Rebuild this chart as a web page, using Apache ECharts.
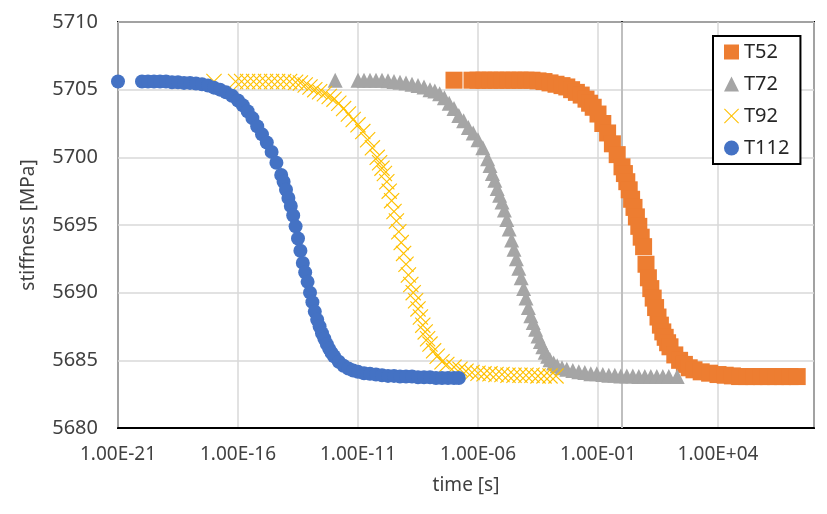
<!DOCTYPE html>
<html>
<head>
    <meta charset="UTF-8">
    <title>stiffness vs time</title>
    <script src="https://cdn.jsdelivr.net/npm/echarts@6/dist/echarts.min.js"></script>
    <style>
        html, body { margin: 0; padding: 0; background: #fff; }
        #main { width: 827px; height: 514px; }
    </style>
</head>
<body>
    <div id="main"></div>
    <script type="text/javascript">
        // log10(time [s]) , stiffness [MPa]
        var t52 = [
            [-7, 5705.7], [-6.25, 5705.7], [-6, 5705.7], [-5.75, 5705.7], [-5.5, 5705.7], [-5.25, 5705.7],
            [-5, 5705.7], [-4.75, 5705.7], [-4.5, 5705.7], [-4.25, 5705.7], [-4, 5705.7], [-3.75, 5705.7],
            [-3.5, 5705.65], [-3.25, 5705.6], [-3, 5705.5], [-2.75, 5705.4], [-2.5, 5705.3], [-2.3, 5705.2],
            [-2.1, 5705.0], [-1.9, 5704.8], [-1.7, 5704.6], [-1.5, 5704.3], [-1.35, 5704.0], [-1.2, 5703.7],
            [-1, 5703.2], [-0.8, 5702.5], [-0.6, 5701.8], [-0.4, 5701.0], [-0.2, 5700.2], [0, 5699.3],
            [0.1, 5698.8], [0.2, 5698.2], [0.3, 5697.6], [0.4, 5696.9], [0.5, 5696.3], [0.6, 5695.6],
            [0.7, 5694.9], [0.8, 5694.1], [0.9, 5693.4], [1, 5692.1], [1.1, 5691.1], [1.2, 5690.3],
            [1.3, 5689.6], [1.4, 5688.9], [1.5, 5688.2], [1.6, 5687.6], [1.7, 5687.1], [1.8, 5686.7],
            [1.9, 5686.3], [2, 5686.0], [2.2, 5685.4], [2.4, 5685.0], [2.6, 5684.7], [2.8, 5684.45],
            [3, 5684.3], [3.3, 5684.15], [3.65, 5684.05], [4, 5683.95], [4.3, 5683.9], [4.6, 5683.85],
            [4.9, 5683.8], [5.2, 5683.8], [5.5, 5683.8], [5.8, 5683.8], [6.1, 5683.8], [6.4, 5683.8],
            [6.7, 5683.8], [7, 5683.8], [7.3, 5683.8]
        ];
        var t72 = [
            [-11.95, 5705.7], [-11, 5705.7], [-10.75, 5705.7], [-10.5, 5705.7], [-10.25, 5705.7], [-10, 5705.7],
            [-9.75, 5705.65], [-9.5, 5705.6], [-9.25, 5705.55], [-9, 5705.5], [-8.75, 5705.4], [-8.5, 5705.3],
            [-8.25, 5705.2], [-8, 5705.0], [-7.8, 5704.9], [-7.6, 5704.7], [-7.4, 5704.4], [-7.2, 5704.0],
            [-7, 5703.6], [-6.8, 5703.1], [-6.6, 5702.7], [-6.4, 5702.2], [-6.2, 5701.8], [-6, 5701.3],
            [-5.8, 5700.7], [-5.6, 5699.9], [-5.5, 5699.4], [-5.4, 5698.8], [-5.3, 5698.3], [-5.2, 5697.7],
            [-5.1, 5697.2], [-5, 5696.7], [-4.9, 5696.1], [-4.8, 5695.4], [-4.7, 5694.7], [-4.6, 5693.9],
            [-4.5, 5693.2], [-4.4, 5692.5], [-4.3, 5691.8], [-4.2, 5691.1], [-4.1, 5690.3], [-4, 5689.6],
            [-3.9, 5688.9], [-3.8, 5688.3], [-3.7, 5687.8], [-3.6, 5687.3], [-3.5, 5686.8], [-3.4, 5686.4],
            [-3.3, 5686.0], [-3.2, 5685.6], [-3.1, 5685.3], [-3, 5685.05], [-2.85, 5684.8], [-2.7, 5684.6],
            [-2.5, 5684.45], [-2.3, 5684.35], [-2.05, 5684.25], [-1.8, 5684.15], [-1.55, 5684.1], [-1.3, 5684.0],
            [-1.05, 5684.0], [-0.8, 5683.95], [-0.55, 5683.9], [-0.3, 5683.9], [-0.05, 5683.85], [0.2, 5683.85],
            [0.45, 5683.85], [0.7, 5683.8], [0.95, 5683.8], [1.2, 5683.8], [1.45, 5683.8], [1.7, 5683.8],
            [1.95, 5683.8], [2.3, 5683.8]
        ];
        var t92 = [
            [-17, 5705.6], [-16.1, 5705.6], [-15.85, 5705.6], [-15.6, 5705.6], [-15.35, 5705.6], [-15.1, 5705.6],
            [-14.85, 5705.6], [-14.6, 5705.6], [-14.35, 5705.6], [-14.1, 5705.6], [-13.85, 5705.6], [-13.6, 5705.55],
            [-13.4, 5705.5], [-13.2, 5705.35], [-13, 5705.2], [-12.8, 5705.0], [-12.6, 5704.85], [-12.4, 5704.7],
            [-12.2, 5704.5], [-12, 5704.3], [-11.8, 5704.0], [-11.6, 5703.6], [-11.4, 5703.2], [-11.2, 5702.8],
            [-11, 5702.4], [-10.8, 5701.9], [-10.6, 5701.3], [-10.4, 5700.7], [-10.2, 5700.0], [-10.1, 5699.6],
            [-10, 5699.2], [-9.9, 5698.8], [-9.8, 5698.2], [-9.7, 5697.5], [-9.6, 5696.8], [-9.5, 5696.0],
            [-9.4, 5695.3], [-9.3, 5694.5], [-9.2, 5693.7], [-9.1, 5692.9], [-9, 5692.1], [-8.9, 5691.3],
            [-8.8, 5690.6], [-8.7, 5690.0], [-8.6, 5689.4], [-8.5, 5688.8], [-8.4, 5688.2], [-8.3, 5687.6],
            [-8.2, 5687.1], [-8.1, 5686.6], [-8, 5686.2], [-7.85, 5685.7], [-7.7, 5685.3], [-7.5, 5684.9],
            [-7.3, 5684.7], [-7, 5684.5], [-6.75, 5684.35], [-6.5, 5684.2], [-6.25, 5684.1], [-6, 5684.05],
            [-5.75, 5684.0], [-5.5, 5684.0], [-5.25, 5683.95], [-5, 5683.95], [-4.75, 5683.9], [-4.5, 5683.9],
            [-4.25, 5683.9], [-4, 5683.9], [-3.75, 5683.9], [-3.5, 5683.85], [-3.25, 5683.85], [-3, 5683.85],
            [-2.75, 5683.85]
        ];
        var t112 = [
            [-21, 5705.6], [-20, 5705.6], [-19.75, 5705.6], [-19.5, 5705.6], [-19.25, 5705.6], [-19, 5705.6],
            [-18.75, 5705.55], [-18.5, 5705.55], [-18.25, 5705.5], [-18, 5705.5], [-17.75, 5705.45], [-17.5, 5705.4],
            [-17.25, 5705.3], [-17, 5705.15], [-16.75, 5705.0], [-16.5, 5704.8], [-16.25, 5704.55], [-16, 5704.2],
            [-15.8, 5703.85], [-15.6, 5703.4], [-15.4, 5702.9], [-15.2, 5702.3], [-15, 5701.7], [-14.8, 5701.1],
            [-14.6, 5700.4], [-14.4, 5699.6], [-14.2, 5698.7], [-14.1, 5698.2], [-14, 5697.6], [-13.9, 5697.0],
            [-13.8, 5696.4], [-13.7, 5695.7], [-13.6, 5694.9], [-13.5, 5694.0], [-13.4, 5693.1], [-13.3, 5692.2],
            [-13.2, 5691.5], [-13.1, 5690.8], [-13, 5690.0], [-12.9, 5689.3], [-12.8, 5688.6], [-12.7, 5688.0],
            [-12.6, 5687.5], [-12.5, 5687.0], [-12.4, 5686.6], [-12.3, 5686.2], [-12.2, 5685.85], [-12.1, 5685.55],
            [-12, 5685.3], [-11.8, 5684.9], [-11.6, 5684.6], [-11.4, 5684.4], [-11.2, 5684.25], [-11, 5684.15],
            [-10.75, 5684.05], [-10.5, 5684.0], [-10.25, 5683.95], [-10, 5683.9], [-9.75, 5683.85], [-9.5, 5683.85],
            [-9.25, 5683.8], [-9, 5683.8], [-8.75, 5683.8], [-8.5, 5683.75], [-8.25, 5683.75], [-8, 5683.75],
            [-7.75, 5683.7], [-7.5, 5683.7], [-7.25, 5683.7], [-7, 5683.7], [-6.8, 5683.7]
        ];

        var seriesNames = ['T52', 'T72', 'T92', 'T112'];
        var seriesData = [t52, t72, t92, t112];

        // axes: exponent of time, stiffness
        var xMin = -21, xMax = 8, xStep = 5;
        var yMin = 5680, yMax = 5710, yStep = 5;
        var refLineLogT = 0;   // darker vertical line at t = 1 s

        function expLabel(v) {
            if (v === xMax) return '';
            var a = Math.abs(v);
            return '1.00E' + (v < 0 ? '-' : '+') + (a < 10 ? '0' + a : a);
        }

        var crossPath = 'path://M5,0L50,45L95,0L100,5L55,50L100,95L95,100L50,55L5,100L0,95L45,50L0,5Z';
        var marks = [
            { symbol: 'rect', size: 17, color: '#ED7D31' },
            { symbol: 'triangle', size: 15, color: '#A5A5A5' },
            { symbol: crossPath, size: 16, color: '#FFC000' },
            { symbol: 'circle', size: 14, color: '#4472C4' }
        ];

        var series = [];
        for (var i = 0; i < seriesNames.length; i++) {
            var s = {
                name: seriesNames[i],
                type: 'scatter',
                symbol: marks[i].symbol,
                symbolSize: marks[i].size,
                itemStyle: { color: marks[i].color, opacity: 1 },
                data: seriesData[i]
            };
            if (i === 0) {
                s.markLine = {
                    silent: true,
                    z: 1,
                    symbol: 'none',
                    label: { show: false },
                    lineStyle: { color: '#bfbfbf', width: 2, type: 'solid' },
                    data: [{ xAxis: refLineLogT }]
                };
            }
            series.push(s);
        }

        var textColor = '#404040';
        var font = 'Noto Sans';

        var myChart = echarts.init(document.getElementById('main'));
        var option = {
            animation: false,
            backgroundColor: '#fff',
            grid: {
                left: 118, right: 13, top: 22, bottom: 86,
                show: true, borderColor: '#000', borderWidth: 2
            },
            legend: {
                orient: 'vertical',
                left: 713, top: 36,
                padding: [6, 11, 6, 11],
                itemGap: 12,
                itemWidth: 15, itemHeight: 15,
                borderColor: '#000', borderWidth: 2,
                backgroundColor: '#fff',
                data: seriesNames,
                textStyle: { fontSize: 20, color: '#262626', fontFamily: font }
            },
            xAxis: {
                type: 'value',
                min: xMin, max: xMax, interval: xStep,
                name: 'time [s]',
                nameLocation: 'middle',
                nameGap: 48,
                nameTextStyle: { fontSize: 19, color: textColor, fontFamily: font },
                axisLine: { show: true, onZero: false, lineStyle: { color: '#000', width: 2 } },
                axisTick: { show: false },
                axisLabel: { margin: 17, fontSize: 19, color: textColor, fontFamily: font, formatter: expLabel },
                splitLine: { show: true, lineStyle: { color: '#d9d9d9', width: 1.5 } }
            },
            yAxis: {
                type: 'value',
                min: yMin, max: yMax, interval: yStep,
                name: 'stiffness [MPa]',
                nameLocation: 'middle',
                nameGap: 80,
                nameTextStyle: { fontSize: 19, color: textColor, fontFamily: font },
                axisLine: { show: true, lineStyle: { color: '#000', width: 2 } },
                axisTick: { show: false },
                axisLabel: {
                    margin: 20, fontSize: 20, color: textColor, fontFamily: font,
                    formatter: function (v) { return String(v); }
                },
                splitLine: { show: true, lineStyle: { color: '#d9d9d9', width: 1.5 } }
            },
            series: series
        };
        myChart.setOption(option);
    </script>
</body>
</html>
